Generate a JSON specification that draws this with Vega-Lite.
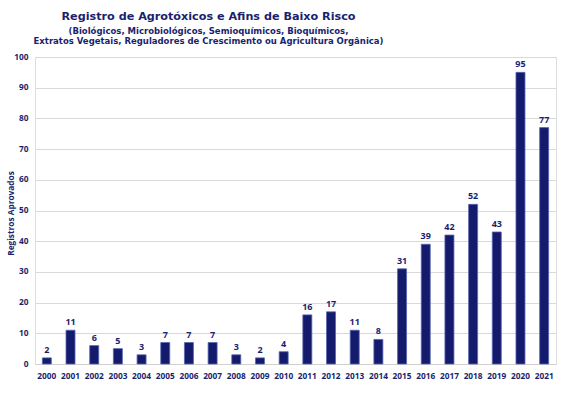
{
  "$schema": "https://vega.github.io/schema/vega-lite/v6.json",
  "width": 521,
  "height": 307,
  "autosize": {"type": "none"},
  "padding": {"left": 35, "top": 57, "right": 11, "bottom": 32},
  "background": "white",
  "title": {
    "text": "Registro de Agrotóxicos e Afins de Baixo Risco",
    "subtitle": ["(Biológicos, Microbiológicos, Semioquímicos, Bioquímicos,", "Extratos Vegetais, Reguladores de Crescimento ou Agricultura Orgânica)"],
    "anchor": "middle",
    "dx": -87,
    "offset": 7,
    "font": "DejaVu Sans",
    "fontSize": 11.2,
    "fontWeight": "bold",
    "color": "#1b1f6e",
    "subtitleFont": "DejaVu Sans",
    "subtitleFontSize": 8.5,
    "subtitleFontWeight": "bold",
    "subtitleColor": "#1b1f6e",
    "subtitlePadding": 5,
    "subtitleLineHeight": 9.5
  },
  "data": {
    "values": [
      {"ano": "2000", "registros": 2},
      {"ano": "2001", "registros": 11},
      {"ano": "2002", "registros": 6},
      {"ano": "2003", "registros": 5},
      {"ano": "2004", "registros": 3},
      {"ano": "2005", "registros": 7},
      {"ano": "2006", "registros": 7},
      {"ano": "2007", "registros": 7},
      {"ano": "2008", "registros": 3},
      {"ano": "2009", "registros": 2},
      {"ano": "2010", "registros": 4},
      {"ano": "2011", "registros": 16},
      {"ano": "2012", "registros": 17},
      {"ano": "2013", "registros": 11},
      {"ano": "2014", "registros": 8},
      {"ano": "2015", "registros": 31},
      {"ano": "2016", "registros": 39},
      {"ano": "2017", "registros": 42},
      {"ano": "2018", "registros": 52},
      {"ano": "2019", "registros": 43},
      {"ano": "2020", "registros": 95},
      {"ano": "2021", "registros": 77}
    ]
  },
  "encoding": {
    "x": {
      "field": "ano",
      "type": "ordinal",
      "scale": {"paddingInner": 0.62, "paddingOuter": 0.31},
      "axis": {
        "title": null,
        "labelAngle": 0,
        "ticks": false,
        "domain": true,
        "domainColor": "#d0d0d0",
        "labelPadding": 7,
        "labelFont": "Open Sans",
        "labelFontSize": 8.3,
        "labelFontWeight": "bold",
        "labelColor": "#1b1f6e"
      }
    },
    "y": {
      "field": "registros",
      "type": "quantitative",
      "scale": {"domain": [0, 100]},
      "axis": {
        "title": "Registros Aprovados",
        "titleFont": "Open Sans",
        "titleFontSize": 8.3,
        "titleFontWeight": "bold",
        "titleColor": "#1b1f6e",
        "titleX": -24,
        "titleY": 156,
        "titleAlign": "center",
        "titleBaseline": "middle",
        "values": [0, 10, 20, 30, 40, 50, 60, 70, 80, 90, 100],
        "domain": false,
        "ticks": false,
        "grid": true,
        "gridColor": "#d9d9d9",
        "labelPadding": 7,
        "labelFont": "Open Sans",
        "labelFontSize": 8.3,
        "labelFontWeight": "bold",
        "labelColor": "#1b1f6e"
      }
    }
  },
  "layer": [
    {
      "mark": {"type": "bar", "fill": "#141a6c", "stroke": "#5767b0", "strokeWidth": 0.8}
    },
    {
      "mark": {"type": "text", "baseline": "bottom", "dy": -3, "font": "Open Sans", "fontSize": 9, "fontWeight": "bold", "color": "#1b1f6e"},
      "encoding": {"text": {"field": "registros", "type": "quantitative"}}
    }
  ]
}
